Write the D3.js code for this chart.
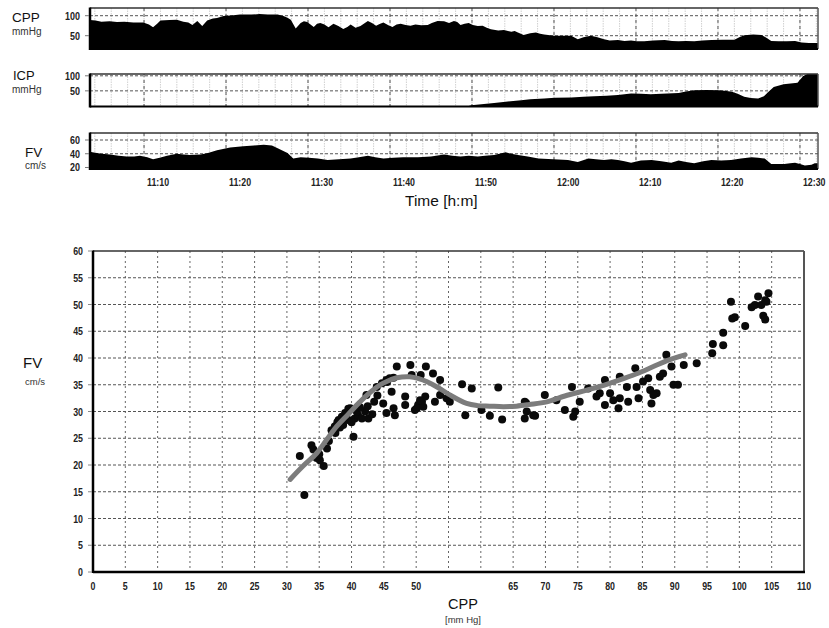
<!DOCTYPE html>
<html><head><meta charset="utf-8">
<script src="https://cdn.jsdelivr.net/npm/d3@7"></script>
<style>body{margin:0;background:#fff}svg{display:block}</style>
</head><body>
<svg id="chart" width="829" height="628"></svg>
<script>
// ---------- DATA: monitoring traces (minutes after 11:00, values) ----------
const cppMin = [3.4,4.1,4.8,5.8,6.7,7.6,8.7,9.9,10.6,11.1,11.6,12.0,13.1,14.0,14.8,15.4,15.9,16.5,17.1,17.7,18.4,18.9,19.7,20.9,21.7,23.1,24.1,25.1,26.3,27.0,27.5,27.9,28.5,29.1,29.5,29.9,30.3,30.7,31.1,31.5,32.0,32.5,33.1,33.7,34.3,34.8,35.2,35.8,36.4,37.3,37.8,38.3,38.8,39.2,39.8,40.3,40.8,41.3,41.9,42.5,43.1,43.8,44.6,45.1,45.8,46.6,47.2,47.8,48.2,48.6,49.1,49.6,50.1,50.7,51.3,51.8,52.3,53.2,53.9,54.8,55.2,55.6,56.3,57.1,57.8,58.3,58.8,60.0,61.1,62.1,62.9,63.6,64.5,65.3,66.1,66.8,67.8,68.6,69.4,70.1,71.0,72.1,73.5,74.4,75.2,76.1,77.1,78.1,79.2,80.6,82.0,82.6,83.2,84.3,85.3,85.9,86.5,87.4,88.4,89.4,90.2,91.1,92.2];
const cppVal = [89,88,85,86,84,85,83,83,78,71,80,88,89,90,85,83,77,87,74,88,93,94,99,101,103,103,104,103,103,99,95,90,68,82,86,84,78,72,80,82,78,71,80,74,67,72,78,70,74,87,82,75,80,83,76,72,78,80,77,75,78,76,77,82,87,86,82,87,84,77,80,82,77,74,75,70,66,63,64,60,62,58,52,56,58,55,53,50,50,50,41,46,50,46,41,38,39,37,38,36,36,38,39,37,36,37,36,38,39,40,40,46,51,53,52,45,37,36,36,37,33,32,32];

const icpMin = [3.4,49.6,49.9,52.7,54.1,56.0,57.1,58.8,60.1,62.1,63.6,64.9,66.4,67.8,69.4,70.6,71.8,73.1,75.2,76.1,77.1,78.6,80.1,80.8,81.7,82.4,83.2,84.0,84.9,85.6,86.2,86.8,88.0,89.7,90.4,90.9,92.2];
const icpVal = [0,0,2,10,14,19,22,25,27,28,30,32,34,36,41,40,39,40,43,48,52,53,52,50,47,40,30,26,25,32,48,63,72,77,99,106,106];

const fvMin = [3.4,3.7,4.8,5.85,6.9,7.9,8.8,9.5,10.4,11.1,11.9,12.8,14.0,14.8,15.6,16.9,17.8,18.9,20.5,22.1,23.4,24.6,25.6,26.3,27.5,28.2,29.1,30.1,31.2,32.4,33.8,35.2,36.2,37.3,38.2,39.2,40.4,41.6,43.4,45.0,46.6,47.6,48.6,49.6,50.7,51.6,52.7,54.1,54.8,55.6,56.8,58.1,59.9,61.7,62.9,64.2,65.1,66.1,67.0,67.8,68.6,69.4,70.6,71.9,73.1,74.3,75.2,76.1,77.1,78.2,79.2,80.4,81.6,82.8,84.1,84.9,85.7,86.5,87.3,88.1,88.8,89.4,90.0,90.6,91.4,91.8,92.2];
const fvVal = [43,42,40,39,37,36,36,37,35,32,34,37,40,39,38,39,41,45,49,51,52,53,52,48,41,33,35,34,33,31,32,33,35,37,35,33,34,35,35,36,39,37,36,37,36,37,38,42,40,38,36,33,32,31,28,33,32,31,32,31,29,27,30,31,29,27,30,28,26,29,31,30,31,33,35,34,33,25,25,25,26,27,25,23,24,26,26];

const timeTickLabels = ["11:10","11:20","11:30","11:40","11:50","12:00","12:10","12:20","12:30"];
const cppTicks = [50,100];
const icpTicks = [50,100];
const fvTicks = [20,40,60];

// ---------- DATA: scatter FV vs CPP ----------
const scatterCPP = [32.0,32.7,33.8,34.1,34.6,35.7,35.1,36.2,36.9,37.4,38.0,38.5,38.7,39.0,39.5,39.8,40.3,40.5,41.0,41.6,42.1,42.6,42.3,44.9,45.4,44.7,46.2,46.5,46.7,47.0,48.3,48.3,49.1,49.3,49.8,50.3,50.9,51.4,51.5,50.7,52.6,52.9,53.7,53.7,54.7,55.2,57.1,57.6,58.6,60.1,61.4,62.7,63.3,66.8,66.8,67.1,68.4,69.9,
  37.5,38.2,39.2,40.0,40.8,41.3,42.5,43.2,35.0,36.5,37.8,39.5,38.8,43.5,44.0,45.5,46.5,43.9,45.4,45.9,50.1,51.1,50.6,
  67.0,68.1,71.7,73.0,74.1,74.3,75.3,76.6,77.9,79.2,79.2,80.0,80.5,81.3,81.5,82.6,82.8,83.9,84.1,84.4,85.1,85.9,86.2,86.4,87.2,87.7,88.2,88.7,89.5,89.8,90.5,91.4,93.4,95.8,95.9,97.5,97.5,98.7,98.9,99.3,100.9,101.9,102.4,102.9,103.4,104.0,104.5,103.7,104.0,104.2,74.6,86.7,81.5,78.4];
const scatterFV = [21.7,14.4,23.7,22.9,21.3,19.8,20.9,23.1,26.5,27.2,28.4,29.0,27.5,29.7,28.4,30.6,25.3,28.7,29.3,28.7,30.0,28.7,33.1,31.5,29.7,35.3,33.7,30.6,29.3,38.4,32.8,31.2,38.7,36.8,30.3,31.2,31.8,32.8,38.4,36.8,37.1,31.8,35.9,33.1,32.5,31.8,35.1,29.3,34.3,30.3,29.2,34.5,28.5,31.8,28.7,30.0,29.2,33.1,
  26.0,27.0,28.8,28.0,30.0,30.8,31.0,29.5,22.0,24.5,28.0,30.5,28.5,31.8,33.0,35.5,36.3,34.6,35.9,36.2,30.6,30.9,32.1,
  31.6,29.3,32.1,30.3,34.6,29.0,31.8,34.3,32.8,35.9,31.2,33.4,32.1,30.6,36.5,34.6,31.8,38.1,34.6,32.5,35.6,36.2,34.0,31.5,33.4,36.5,37.1,40.6,38.4,35.0,35.0,38.7,39.0,40.9,42.6,42.4,44.7,50.5,47.4,47.6,46.0,49.5,49.9,51.5,49.9,50.8,52.1,47.9,47.2,50.5,30.0,33.1,32.5,33.4];

// fitted (smoothed) curve
const fitCPP = [30.5,32.5,34.6,36.2,37.7,39.5,41.3,43.0,44.9,47.0,49.0,50.5,51.6,53.5,55.2,57.8,59.5,61.4,63.5,65.5,67.5,70.2,73.0,76.4,79.0,81.5,84.0,86.7,89.0,91.6];
const fitFV  = [17.3,19.8,22.2,24.8,27.2,29.5,31.8,33.7,35.3,36.3,36.5,36.1,35.6,34.4,33.1,31.5,31.1,31.0,30.9,31.0,31.3,31.8,32.9,34.0,34.9,35.9,37.0,38.4,39.6,40.6];

const xTickValues = [0,5,10,15,20,25,30,35,40,45,50,65,70,75,80,85,90,95,100,105,110];
const yTickValues = [0,5,10,15,20,25,30,35,40,45,50,55,60];

// ---------- DRAW ----------
const svg = d3.select("#chart");
const sans = "'Liberation Sans',Arial,sans-serif";
const base = new Date(2000,0,1,11,0,0);
const toDate = m => new Date(base.getTime() + m*60000);
const parseHM = d3.timeParse("%H:%M");
const hmDate = s => { const d = parseHM(s); return new Date(2000,0,1,d.getHours(),d.getMinutes()); };

function numLabels(sel, data, xf, yf, anchor, size, sx) {
  return sel.selectAll(null).data(data).join("text")
    .attr("transform", d => `translate(${xf(d)},${yf(d)}) scale(${sx},1)`)
    .attr("text-anchor", anchor)
    .attr("font-family", sans).attr("font-size", size).attr("font-weight", "bold").attr("fill", "#222")
    .text(d => d);
}

const tx = d3.scaleTime().domain([toDate(3.41), toDate(92.2)]).range([90, 818]);
const L = 90, R = 818;

const panels = [
  {label:"CPP", unit:"mmHg", mins:cppMin, vals:cppVal, top:8, bottom:49, domain:[16.75,119.25], ticks:cppTicks,
   lx:12, ly:22, lsize:13.5, ux:12, uy:34.5, usize:10},
  {label:"ICP", unit:"mmHg", mins:icpMin, vals:icpVal, top:74, bottom:106.5, domain:[-2,106], ticks:icpTicks,
   lx:13, ly:80, lsize:13, ux:12, uy:93, usize:10},
  {label:"FV", unit:"cm/s", mins:fvMin, vals:fvVal, top:133, bottom:169, domain:[17.8,70.2], ticks:fvTicks,
   lx:25, ly:157, lsize:13.5, ux:25, uy:169, usize:10}
];

const minor = d3.timeMinute.every(2).range(toDate(4), toDate(92.2));
const majors = timeTickLabels.map(hmDate);

panels.forEach((p,i) => {
  const y = d3.scaleLinear().domain(p.domain).range([p.bottom, p.top]);
  const g = svg.append("g");
  const cid = "clip"+i;
  svg.append("clipPath").attr("id",cid).append("rect")
    .attr("x",L).attr("y",p.top).attr("width",R-L).attr("height",p.bottom-p.top);
  g.selectAll(".mn").data(minor).join("line")
    .attr("x1",d=>tx(d)).attr("x2",d=>tx(d)).attr("y1",p.top).attr("y2",p.bottom)
    .attr("stroke","#c4c4c4").attr("stroke-width",0.8).attr("stroke-dasharray","1.5,1");
  g.selectAll(".mj").data(majors).join("line")
    .attr("x1",d=>tx(d)).attr("x2",d=>tx(d)).attr("y1",p.top).attr("y2",p.bottom)
    .attr("stroke","#555").attr("stroke-width",1).attr("stroke-dasharray","3,3");
  const hg = p.ticks.filter(v => v > p.domain[0] + 5);
  g.selectAll(".hg").data(hg).join("line")
    .attr("x1",L).attr("x2",R).attr("y1",d=>y(d)).attr("y2",d=>y(d))
    .attr("stroke","#555").attr("stroke-width",1).attr("stroke-dasharray","3,2");
  const pts = p.mins.map((m,j)=>[toDate(m), p.vals[j]]);
  const area = d3.area().x(d=>tx(d[0])).y0(p.bottom).y1(d=>y(d[1])).curve(d3.curveLinear);
  g.append("path").datum(pts).attr("d",area).attr("fill","#000").attr("clip-path",`url(#${cid})`);
  g.append("line").attr("x1",L).attr("x2",R).attr("y1",p.top).attr("y2",p.top).attr("stroke","#333").attr("stroke-width",1.5);
  g.append("line").attr("x1",R).attr("x2",R).attr("y1",p.top).attr("y2",p.bottom).attr("stroke","#555").attr("stroke-width",1.5);
  g.append("line").attr("x1",L).attr("x2",R).attr("y1",p.bottom).attr("y2",p.bottom).attr("stroke","#000").attr("stroke-width",2);
  g.append("line").attr("x1",L).attr("x2",L).attr("y1",p.top-0.5).attr("y2",p.bottom+1).attr("stroke","#000").attr("stroke-width",2.5);
  numLabels(g, p.ticks, () => 80, d => y(d)+4, "end", 11.5, 0.78);
  g.selectAll(".tk").data(p.ticks).join("line")
    .attr("x1",85).attr("x2",89).attr("y1",d=>y(d)).attr("y2",d=>y(d)).attr("stroke","#777");
  g.append("text").attr("x",p.lx).attr("y",p.ly).attr("font-family",sans).attr("font-size",p.lsize).attr("fill","#111").text(p.label);
  g.append("text").attr("x",p.ux).attr("y",p.uy).attr("font-family",sans).attr("font-size",p.usize).attr("fill","#333").text(p.unit);
});

numLabels(svg.append("g"), timeTickLabels, d => tx(hmDate(d))+3, () => 186, "start", 11, 0.8);
svg.append("text").attr("x",405).attr("y",206).attr("font-family",sans).attr("font-size",15.5).attr("fill","#111").text("Time [h:m]");

// ---------- scatter ----------
const x = d3.scaleLinear().domain([0,110]).range([93,804]);
const y = d3.scaleLinear().domain([0,60]).range([572,251]);
const sg = svg.append("g");
const gridX = d3.range(5,110,5), gridY = d3.range(5,60,5);
sg.selectAll(".gx").data(gridX).join("line")
  .attr("x1",d=>x(d)).attr("x2",d=>x(d)).attr("y1",y(60)).attr("y2",y(0))
  .attr("stroke","#666").attr("stroke-width",1).attr("stroke-dasharray","2,3");
sg.selectAll(".gy").data(gridY).join("line")
  .attr("x1",x(0)).attr("x2",x(110)).attr("y1",d=>y(d)).attr("y2",d=>y(d))
  .attr("stroke","#555").attr("stroke-width",1).attr("stroke-dasharray","3,2");

sg.append("line").attr("x1",x(0)).attr("x2",x(110)).attr("y1",y(60)).attr("y2",y(60)).attr("stroke","#333").attr("stroke-width",1.5);
sg.append("line").attr("x1",x(110)).attr("x2",x(110)).attr("y1",y(60)).attr("y2",y(0)).attr("stroke","#555").attr("stroke-width",2);
sg.append("line").attr("x1",x(0)).attr("x2",x(110)+1).attr("y1",y(0)).attr("y2",y(0)).attr("stroke","#000").attr("stroke-width",2.5);
sg.append("line").attr("x1",x(0)).attr("x2",x(0)).attr("y1",y(60)-0.5).attr("y2",y(0)+1).attr("stroke","#000").attr("stroke-width",2.5);

sg.selectAll(".pt").data(scatterCPP.map((c,i)=>[c,scatterFV[i]])).join("circle")
  .attr("cx",d=>x(d[0])).attr("cy",d=>y(d[1])).attr("r",4).attr("fill","#0a0a0a");
const fitLine = d3.line().x(d=>x(d[0])).y(d=>y(d[1])).curve(d3.curveCatmullRom);
sg.append("path").datum(fitCPP.map((c,i)=>[c,fitFV[i]])).attr("d",fitLine)
  .attr("fill","none").attr("stroke","#7c7c7c").attr("stroke-width",5).attr("stroke-linecap","round").attr("stroke-linejoin","round");

numLabels(sg.append("g"), xTickValues, d => x(d), () => 590, "middle", 11, 0.8);
numLabels(sg.append("g"), yTickValues, () => 83, d => y(d)+4, "end", 11, 0.8);
sg.selectAll(".ytk").data(yTickValues).join("line")
  .attr("x1",88).attr("x2",92).attr("y1",d=>y(d)).attr("y2",d=>y(d)).attr("stroke","#888");

svg.append("text").attr("x",23).attr("y",368).attr("font-family",sans).attr("font-size",15).attr("fill","#111").text("FV");
svg.append("text").attr("x",25).attr("y",384.5).attr("font-family",sans).attr("font-size",9.5).attr("fill","#333").text("cm/s");
svg.append("text").attr("x",463).attr("y",609).attr("text-anchor","middle").attr("font-family",sans).attr("font-size",14.5).attr("fill","#111").text("CPP");
svg.append("text").attr("x",463).attr("y",623).attr("text-anchor","middle").attr("font-family",sans).attr("font-size",9.5).attr("fill","#333").text("[mm Hg]");
</script>
</body></html>
